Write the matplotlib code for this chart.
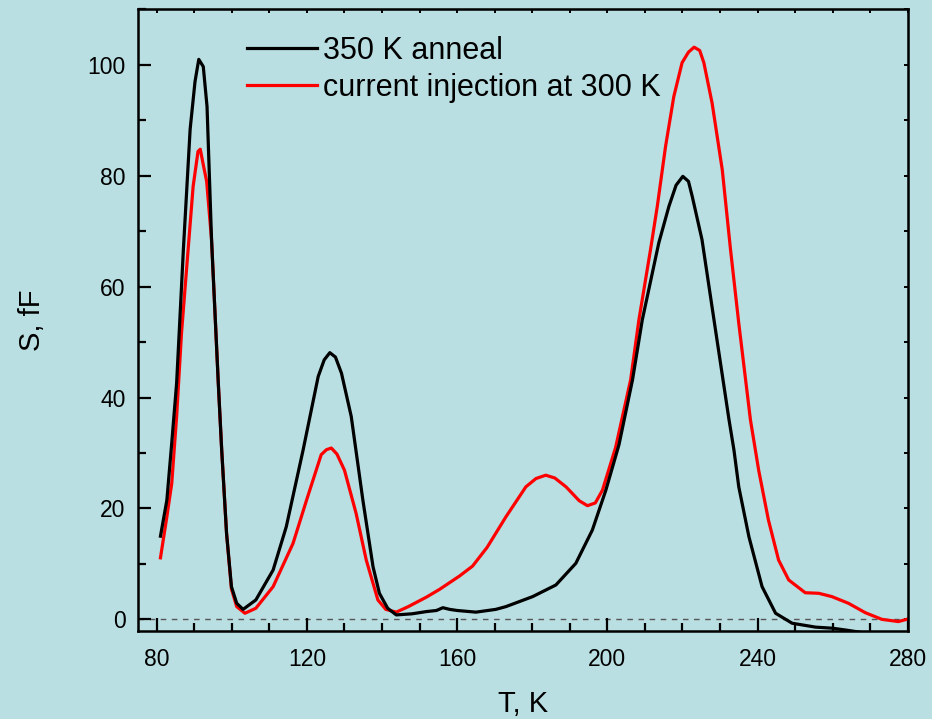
"""DLTS-style spectra: 350 K anneal vs current injection at 300 K."""

import matplotlib

matplotlib.use("Agg")
import matplotlib.pyplot as plt
from matplotlib.ticker import MultipleLocator

plt.rcParams["font.family"] = ["Liberation Sans", "DejaVu Sans"]

BG = "#b9dfe2"

# 350 K anneal (black)
anneal_t = [81.0, 82.7, 84.0, 85.3, 86.2, 87.1, 88.9, 90.2, 91.2, 92.4, 93.4, 94.6,
            96.4, 97.3, 98.6, 99.9, 101.3, 103.0, 106.4, 111.0, 114.5, 119.0, 123.0,
            124.6, 126.1, 127.6, 129.2, 131.8, 134.9, 137.6, 139.3, 141.5, 143.8,
            148.0, 151.8, 154.5, 156.2, 158.0, 160.0, 165.0, 170.3, 173.0, 180.1,
            186.3, 191.6, 196.0, 199.6, 203.1, 206.7, 209.3, 213.7, 216.4, 218.3,
            220.1, 221.6, 222.6, 225.2, 228.8, 232.4, 233.7, 235.0, 237.7, 241.2,
            244.8, 249.2, 255.4, 260.0, 264.2, 268.0]
anneal_s = [15.0, 21.5, 31.8, 42.6, 54.6, 66.7, 88.4, 97.0, 101.0, 99.7, 92.5, 68.5,
            42.6, 30.6, 15.5, 5.9, 2.9, 1.8, 3.5, 8.9, 16.7, 30.6, 43.8,
            46.8, 48.1, 47.3, 44.4, 36.6, 21.5, 9.5, 4.7, 2.0, 0.8,
            1.0, 1.4, 1.6, 2.1, 1.8, 1.6, 1.3, 1.8, 2.3, 4.1,
            6.2, 10.1, 16.1, 23.3, 31.5, 43.2, 54.0, 67.9, 74.5, 78.3,
            79.9, 79.0, 76.3, 68.5, 52.2, 36.0, 30.6, 23.9, 14.9, 5.9,
            1.1, -0.7, -1.4, -1.6, -2.0, -2.4]

# current injection at 300 K (red)
inject_t = [81.0, 82.7, 84.0, 85.3, 86.6, 88.0, 89.7, 91.0, 91.6, 92.4, 93.3, 94.6,
            96.4, 97.3, 98.6, 99.9, 101.3, 103.5, 106.4, 111.0, 116.3, 119.9, 123.8,
            125.2, 126.5, 128.0, 130.0, 133.1, 135.8, 138.9, 141.0, 143.8, 147.0,
            151.8, 155.3, 160.6, 164.1, 168.0, 173.0, 178.3, 181.0, 183.6, 186.0,
            189.0, 192.5, 194.7, 196.8, 198.7, 202.2, 206.2, 208.4, 211.5, 213.3,
            215.5, 217.7, 219.9, 221.6, 223.1, 224.6, 225.7, 227.9, 230.6, 232.8,
            235.0, 238.1, 240.3, 242.9, 245.6, 248.3, 252.7, 256.3, 259.8, 264.2,
            268.7, 273.1, 277.5, 279.7]
inject_s = [11.1, 18.5, 24.5, 36.6, 51.6, 63.6, 78.1, 84.4, 84.8, 82.0, 79.0, 68.5,
            42.6, 30.6, 15.5, 5.5, 2.3, 1.1, 2.0, 5.9, 13.7, 21.5, 29.7,
            30.6, 30.9, 29.8, 26.9, 19.1, 10.7, 3.5, 1.8, 1.3, 2.3,
            4.0, 5.4, 7.8, 9.6, 13.0, 18.5, 23.9, 25.4, 26.0, 25.5,
            23.9, 21.4, 20.5, 21.0, 23.3, 31.0, 43.2, 54.0, 66.7, 74.5,
            85.3, 94.3, 100.4, 102.3, 103.2, 102.6, 100.4, 93.1, 81.1, 66.7,
            53.4, 36.0, 26.9, 17.9, 10.7, 7.1, 4.8, 4.7, 4.1, 2.9,
            1.2, 0.0, -0.4, 0.0]

fig = plt.figure(figsize=(9.32, 7.19), dpi=100, facecolor=BG)
ax = fig.add_axes([0.148, 0.1224, 0.826, 0.8644], facecolor=BG)

ax.axhline(0, color="#555555", lw=1.0, ls=(0, (4, 4)), zorder=1)
ax.plot(anneal_t, anneal_s, color="black", lw=2.3, label="350 K anneal", zorder=3)
ax.plot(inject_t, inject_s, color="#ff0000", lw=2.3,
        label="current injection at 300 K", zorder=2)

ax.set_xlim(75, 280)
ax.set_ylim(-2.1, 110)

# main axes: labelled ticks on bottom/left, pointing in
ax.xaxis.set_major_locator(MultipleLocator(40))
ax.xaxis.set_minor_locator(MultipleLocator(10))
ax.yaxis.set_major_locator(MultipleLocator(20))
ax.yaxis.set_minor_locator(MultipleLocator(10))
ax.tick_params(which="both", direction="in", width=1.6, labelsize=16.5)
ax.tick_params(which="major", length=9.5)
ax.tick_params(which="minor", length=5.5)
ax.tick_params(axis="x", pad=12)
ax.tick_params(axis="y", pad=9)
for sp in ax.spines.values():
    sp.set_linewidth(1.8)

# short unlabelled ticks on top and right
top = ax.secondary_xaxis("top")
top.xaxis.set_major_locator(MultipleLocator(10))
top.tick_params(direction="in", length=3, width=1.4, labeltop=False)
right = ax.secondary_yaxis("right")
right.yaxis.set_major_locator(MultipleLocator(10))
right.tick_params(direction="in", length=3, width=1.4, labelright=False)

ax.set_xlabel("T, K", fontsize=21, labelpad=14)
ax.set_ylabel("S, fF", fontsize=21, labelpad=30)

ax.legend(loc="upper left", bbox_to_anchor=(0.1416, 0.9574), frameon=False,
          fontsize=22, handlelength=2.29, handletextpad=0.2, labelspacing=0.23,
          borderpad=0, borderaxespad=0)

fig.savefig("out.png", dpi=100, facecolor=BG)
plt.close(fig)
